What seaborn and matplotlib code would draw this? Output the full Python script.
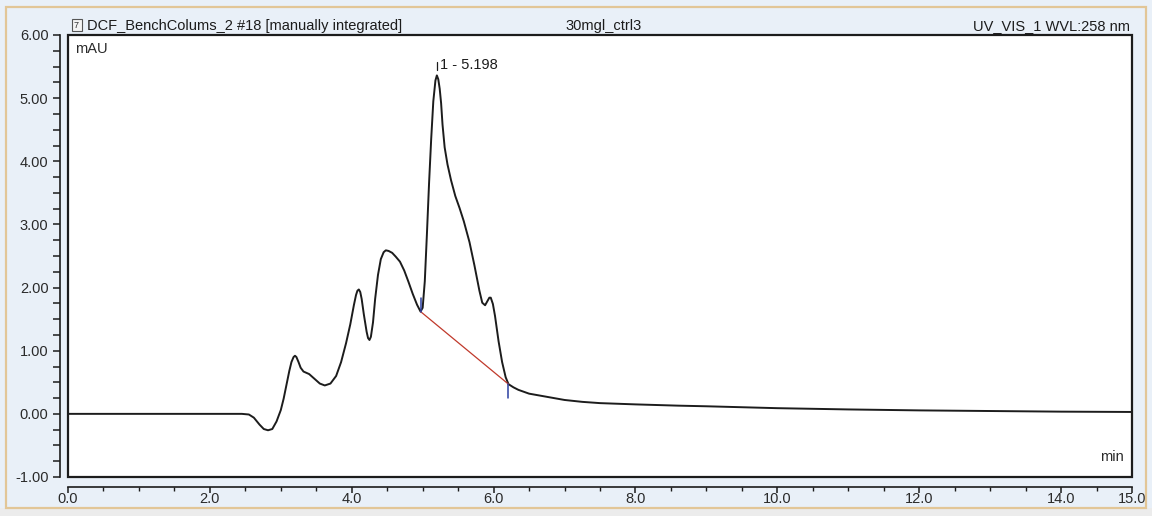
import numpy as np
import pandas as pd
import matplotlib
matplotlib.use("Agg")
import matplotlib.pyplot as plt
from matplotlib.patches import Rectangle
from matplotlib.ticker import MultipleLocator, FixedLocator
import seaborn as sns

# ---- data ----
time_min = [0.0, 1.0, 2.0, 2.45, 2.55, 2.62, 2.70, 2.76, 2.82, 2.88, 2.94, 3.00,
            3.04, 3.08, 3.12, 3.15, 3.18, 3.20, 3.22, 3.25, 3.28, 3.32, 3.36, 3.40,
            3.47, 3.55, 3.62, 3.70, 3.78, 3.85, 3.92, 3.98, 4.03, 4.06, 4.08, 4.10,
            4.12, 4.14, 4.17, 4.21, 4.23, 4.25, 4.27, 4.30, 4.33, 4.37, 4.41, 4.45,
            4.48, 4.52, 4.57, 4.62, 4.68, 4.74, 4.80, 4.86, 4.92, 4.97, 5.00, 5.03,
            5.06, 5.09, 5.12, 5.15, 5.18, 5.20, 5.22, 5.24, 5.26, 5.28, 5.31, 5.35,
            5.40, 5.46, 5.52, 5.58, 5.66, 5.73, 5.80, 5.84, 5.88, 5.91, 5.94, 5.96,
            5.99, 6.02, 6.07, 6.12, 6.17, 6.21, 6.28, 6.35, 6.50, 6.75, 7.00, 7.25,
            7.50, 8.00, 8.60, 9.00, 10.0, 11.0, 12.0, 13.0, 14.0, 15.0]
signal_mau = [0.00, 0.00, 0.00, 0.00, -0.01, -0.06, -0.17, -0.24, -0.26, -0.24, -0.12, 0.06,
              0.24, 0.46, 0.68, 0.82, 0.90, 0.92, 0.90, 0.82, 0.73, 0.67, 0.65, 0.63,
              0.56, 0.48, 0.45, 0.48, 0.60, 0.82, 1.12, 1.42, 1.72, 1.88, 1.95, 1.97,
              1.93, 1.82, 1.58, 1.30, 1.20, 1.17, 1.22, 1.45, 1.82, 2.20, 2.45, 2.56,
              2.59, 2.58, 2.55, 2.49, 2.41, 2.27, 2.09, 1.90, 1.73, 1.62, 1.68, 2.10,
              2.85, 3.65, 4.35, 4.95, 5.28, 5.36, 5.30, 5.15, 4.92, 4.58, 4.22, 3.95,
              3.70, 3.45, 3.26, 3.05, 2.72, 2.35, 1.95, 1.76, 1.72, 1.78, 1.84, 1.84,
              1.74, 1.55, 1.15, 0.82, 0.58, 0.47, 0.42, 0.38, 0.32, 0.27, 0.22, 0.19,
              0.17, 0.15, 0.13, 0.12, 0.09, 0.07, 0.055, 0.045, 0.035, 0.03]

baseline_t = [4.97, 6.21]
baseline_v = [1.62, 0.47]
peak_time = 5.198
peak_label = "1 - 5.198"

x_ticks = [0.0, 2.0, 4.0, 6.0, 8.0, 10.0, 12.0, 14.0, 15.0]
y_ticks = [-1.0, 0.0, 1.0, 2.0, 3.0, 4.0, 5.0, 6.0]

title_left = "DCF_BenchColums_2 #18 [manually integrated]"
title_mid = "30mgl_ctrl3"
title_right = "UV_VIS_1 WVL:258 nm"

df = pd.DataFrame({"time": time_min, "mAU": signal_mau})

sns.set_theme(style="white")
plt.rcParams["font.family"] = ["Liberation Sans", "DejaVu Sans"]

W, H = 1152, 516
fig = plt.figure(figsize=(W / 100, H / 100), dpi=100)
fig.patch.set_facecolor("#e9f0f8")

# outer window frame and bottom grey strip
fig.add_artist(Rectangle((0, 0), 1, 8 / H, transform=fig.transFigure,
                         facecolor="#ececec", edgecolor="none", zorder=0))
fig.add_artist(Rectangle((6 / W, 8 / H), (1146 - 6) / W, (509 - 8) / H,
                         transform=fig.transFigure, fill=False,
                         edgecolor="#e2c697", lw=1.6, zorder=1))

x0, x1, ytop, ybot = 68, 1132, 35, 477
ax = fig.add_axes([x0 / W, 1 - ybot / H, (x1 - x0) / W, (ybot - ytop) / H])
ax.set_facecolor("white")

sns.lineplot(data=df, x="time", y="mAU", ax=ax, color="#1c1c1c", lw=1.4,
             sort=False, estimator=None, legend=False)
ax.lines[-1].set_solid_joinstyle("round")

# integration baseline and delimiters
ax.plot(baseline_t, baseline_v, color="#c0392b", lw=0.9, zorder=3)
ax.plot([baseline_t[0], baseline_t[0]], [baseline_v[0], baseline_v[0] + 0.22],
        color="#2b3fa0", lw=1.1, zorder=4)
ax.plot([baseline_t[1], baseline_t[1]], [baseline_v[1], baseline_v[1] - 0.22],
        color="#2b3fa0", lw=1.1, zorder=4)

# peak annotation
ax.plot([peak_time, peak_time], [5.45, 5.58], color="#1c1c1c", lw=0.9)
ax.text(peak_time + 0.045, 5.53, peak_label, fontsize=10.5, va="center",
        ha="left", color="#1c1c1c")

ax.set_xlim(0, 15)
ax.set_ylim(-1, 6)
ax.xaxis.set_major_locator(FixedLocator(x_ticks))
ax.set_xticklabels([f"{v:.1f}" for v in x_ticks])
ax.xaxis.set_minor_locator(MultipleLocator(0.5))
ax.yaxis.set_major_locator(FixedLocator(y_ticks))
ax.set_yticklabels([f"{v:.2f}" for v in y_ticks])
ax.yaxis.set_minor_locator(MultipleLocator(0.25))
ax.set_xlabel("")
ax.set_ylabel("")

for s in ["left", "bottom", "top", "right"]:
    ax.spines[s].set_color("#1c1c1c")
    ax.spines[s].set_linewidth(1.4)
ax.spines["left"].set_position(("outward", 6))
ax.spines["bottom"].set_position(("outward", 7))
ax.spines["left"].set_linewidth(1.2)
ax.spines["bottom"].set_linewidth(1.2)
ax.add_patch(Rectangle((0, 0), 1, 1, transform=ax.transAxes, fill=False,
                       edgecolor="#1c1c1c", lw=1.6, clip_on=False, zorder=5))

ax.tick_params(axis="both", which="both", direction="out", colors="#1c1c1c",
               labelsize=10.5, left=True, bottom=True)
ax.tick_params(axis="y", which="major", length=5, width=1.1, pad=3)
ax.tick_params(axis="y", which="minor", length=5, width=1.1)
ax.tick_params(axis="x", which="major", length=4, width=1.1, pad=0)
ax.tick_params(axis="x", which="minor", length=3, width=1.0)
for lab in ax.get_xticklabels() + ax.get_yticklabels():
    lab.set_color("#2a2a2a")

# in-plot unit labels
ax.text(0.007, 0.985, "mAU", transform=ax.transAxes, fontsize=10.5,
        va="top", ha="left", color="#2a2a2a")
ax.text(0.992, 0.03, "min", transform=ax.transAxes, fontsize=10.5,
        va="bottom", ha="right", color="#2a2a2a")

# header line
hy = 1 - 26 / H
fig.add_artist(Rectangle((72 / W, 1 - 31 / H), 10 / W, 12 / H,
                         transform=fig.transFigure, facecolor="#f4f4f4",
                         edgecolor="#555555", lw=0.8))
fig.text(76.5 / W, hy, "7", fontsize=6.5, ha="center", va="center", color="#333333")
fig.text(87 / W, hy, title_left, fontsize=10.5, ha="left", va="center", color="#1c1c1c")
fig.text(565 / W, hy, title_mid, fontsize=10.5, ha="left", va="center", color="#1c1c1c")
fig.text(1130 / W, hy, title_right, fontsize=10.5, ha="right", va="center", color="#1c1c1c")

fig.savefig("out.png", dpi=100, facecolor=fig.get_facecolor())
